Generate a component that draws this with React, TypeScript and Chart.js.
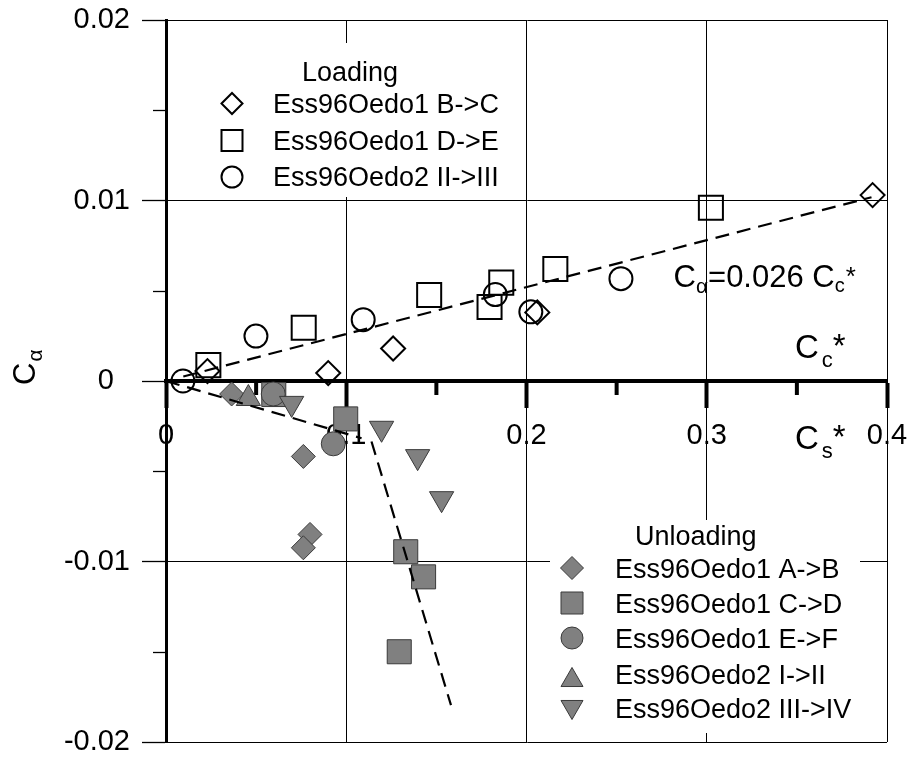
import React, { useEffect, useRef } from 'react';
import { Chart, registerables } from 'chart.js';

Chart.register(...registerables);

const FONT = '"Liberation Sans", Arial, Helvetica, sans-serif';

// ---- axis ticks ----
const xTickValues = [0, 0.1, 0.2, 0.3, 0.4];
const xTickLabels = ['0', '0.1', '0.2', '0.3', '0.4'];
const xMinorValues = [0.05, 0.15, 0.25, 0.35];
const yTickValues = [-0.02, -0.01, 0, 0.01, 0.02];
const yTickLabels = ['-0.02', '-0.01', '0  ', '0.01', '0.02'];
const yMinorValues = [-0.015, -0.005, 0.005, 0.015];

// ---- loading series ----
const loadBCx = [0.023, 0.09, 0.126, 0.206, 0.392];
const loadBCy = [0.00055, 0.00044, 0.0018, 0.0038, 0.0103];
const loadDEx = [0.0235, 0.0764, 0.146, 0.1795, 0.186, 0.216, 0.3023];
const loadDEy = [0.00088, 0.00295, 0.00477, 0.0041, 0.00545, 0.0062, 0.0096];
const loadIIx = [0.0094, 0.0499, 0.1094, 0.1827, 0.2024, 0.2524];
const loadIIy = [0.0, 0.00249, 0.0034, 0.00479, 0.00383, 0.00567];

// ---- unloading series ----
const unABx = [0.0364, 0.0762, 0.0799, 0.0762];
const unABy = [-0.00072, -0.00418, -0.0085, -0.00924];
const unCDx = [0.0598, 0.0997, 0.133, 0.1429, 0.1294];
const unCDy = [-0.00075, -0.0021, -0.00946, -0.01085, -0.015];
const unEFx = [0.0595, 0.0928];
const unEFy = [-0.00072, -0.00348];
const unI_IIx = [0.0457];
const unI_IIy = [-0.00097];
const unIII_IVx = [0.0697, 0.1196, 0.1396, 0.1529];
const unIII_IVy = [-0.00124, -0.00262, -0.00419, -0.00652];

// ---- fitted dashed lines ----
const fitLoadX = [0.0096, 0.3914];
const fitLoadY = [0.00025, 0.01018];
const fitUn1X = [0.0, 0.1085];
const fitUn1Y = [0.0, -0.00317];
const fitUn2X = [0.114, 0.1581];
const fitUn2Y = [-0.00335, -0.01796];

// ---- texts ----
const loadingTitle = 'Loading';
const unloadingTitle = 'Unloading';
const loadingNames = ['Ess96Oedo1 B->C', 'Ess96Oedo1 D->E', 'Ess96Oedo2 II->III'];
const unloadingNames = [
  'Ess96Oedo1 A->B',
  'Ess96Oedo1 C->D',
  'Ess96Oedo1 E->F',
  'Ess96Oedo2 I->II',
  'Ess96Oedo2 III->IV',
];

const pts = (xs: number[], ys: number[]) => xs.map((x, i) => ({ x, y: ys[i] }));

const OPEN_BG = 'rgba(0,0,0,0)';
const GRAY = '#808080';
const GRAY_EDGE = '#3a3a3a';

type Shape = 'diamond' | 'square' | 'circle' | 'tri' | 'triDown';

function drawShape(
  ctx: CanvasRenderingContext2D,
  shape: Shape,
  cx: number,
  cy: number,
  s: number,
  fill: string | null,
  stroke: string,
  lw: number
) {
  ctx.beginPath();
  if (shape === 'diamond') {
    ctx.moveTo(cx - s, cy);
    ctx.lineTo(cx, cy - s);
    ctx.lineTo(cx + s, cy);
    ctx.lineTo(cx, cy + s);
    ctx.closePath();
  } else if (shape === 'square') {
    ctx.rect(cx - s, cy - s, 2 * s, 2 * s);
  } else if (shape === 'circle') {
    ctx.arc(cx, cy, s, 0, Math.PI * 2);
  } else if (shape === 'tri') {
    const h = s * Math.sqrt(3);
    ctx.moveTo(cx, cy - h / 2);
    ctx.lineTo(cx + s, cy + h / 2);
    ctx.lineTo(cx - s, cy + h / 2);
    ctx.closePath();
  } else {
    const h = s * Math.sqrt(3);
    ctx.moveTo(cx, cy + h / 2);
    ctx.lineTo(cx + s, cy - h / 2);
    ctx.lineTo(cx - s, cy - h / 2);
    ctx.closePath();
  }
  if (fill) {
    ctx.fillStyle = fill;
    ctx.fill();
  }
  ctx.strokeStyle = stroke;
  ctx.lineWidth = lw;
  ctx.stroke();
}

function text(ctx: CanvasRenderingContext2D, s: string, x: number, y: number, size: number) {
  ctx.font = `${size}px ${FONT}`;
  ctx.fillText(s, x, y);
  return ctx.measureText(s).width;
}

const decorPlugin = {
  id: 'decor',
  beforeDatasetsDraw(chart: any) {
    const { ctx, scales } = chart;
    const xs = scales.x;
    const ys = scales.y;
    ctx.save();

    // white legend boxes covering grid lines
    ctx.fillStyle = '#fff';
    ctx.fillRect(195, 43, 320, 154);
    ctx.fillRect(550, 520, 310, 213);

    // minor ticks on x axis (at y = 0)
    const y0 = ys.getPixelForValue(0);
    ctx.strokeStyle = '#000';
    ctx.lineWidth = 4;
    xMinorValues.forEach((v) => {
      const px = xs.getPixelForValue(v);
      ctx.beginPath();
      ctx.moveTo(px, y0);
      ctx.lineTo(px, y0 + 14);
      ctx.stroke();
    });
    // minor ticks on y axis
    ctx.lineWidth = 1.3;
    yMinorValues.forEach((v) => {
      const py = Math.round(ys.getPixelForValue(v)) + 0.5;
      ctx.beginPath();
      ctx.moveTo(xs.left - 13, py);
      ctx.lineTo(xs.left, py);
      ctx.stroke();
    });

    ctx.fillStyle = '#000';
    ctx.textAlign = 'left';
    ctx.textBaseline = 'alphabetic';

    // Loading legend
    text(ctx, loadingTitle, 302, 81, 27);
    const upShapes: Shape[] = ['diamond', 'square', 'circle'];
    const upY = [103.5, 140.5, 177];
    const upBase = [113, 150, 186];
    loadingNames.forEach((n, i) => {
      drawShape(ctx, upShapes[i], 232, upY[i], 10.5, null, '#000', 2);
      ctx.fillStyle = '#000';
      text(ctx, n, 273, upBase[i], 27);
    });

    // Unloading legend
    ctx.fillStyle = '#000';
    text(ctx, unloadingTitle, 635, 545, 27);
    const loShapes: Shape[] = ['diamond', 'square', 'circle', 'tri', 'triDown'];
    const loY = [568, 603, 638, 677, 710];
    const loBase = [578, 613, 648, 684, 718];
    const loSize = [11.5, 11, 11, 11, 11];
    unloadingNames.forEach((n, i) => {
      drawShape(ctx, loShapes[i], 572, loY[i], loSize[i], GRAY, GRAY_EDGE, 1);
      ctx.fillStyle = '#000';
      text(ctx, n, 615, loBase[i], 27);
    });

    // equation
    ctx.fillStyle = '#000';
    let ex = 673.5;
    ex += text(ctx, 'C', ex, 287, 31);
    ex += text(ctx, '\u03b1', ex, 293, 21);
    ex += text(ctx, '=0.026 C', ex, 287, 31);
    ex += text(ctx, 'c', ex, 292, 20);
    text(ctx, '*', ex + 1, 285, 26);

    // axis labels near the x axis
    let cx = 795;
    cx += text(ctx, 'C', cx, 358, 33);
    cx += 3;
    cx += text(ctx, 'c', cx, 367, 22);
    text(ctx, '*', cx, 357, 33);

    cx = 795;
    cx += text(ctx, 'C', cx, 449, 33);
    cx += 3;
    cx += text(ctx, 's', cx, 458, 22);
    text(ctx, '*', cx, 448, 33);

    // y axis title (rotated)
    ctx.translate(35, 385);
    ctx.rotate(-Math.PI / 2);
    const w = text(ctx, 'C', 0, 0, 31);
    text(ctx, '\u03b1', w + 1, 7, 21);

    ctx.restore();
  },
};

export default function App() {
  const ref = useRef<HTMLCanvasElement | null>(null);

  useEffect(() => {
    if (!ref.current) return;
    const tickFont = { family: FONT, size: 29 };
    const chart = new Chart(ref.current, {
      type: 'scatter',
      data: {
        datasets: [
          {
            label: 'fit loading',
            data: pts(fitLoadX, fitLoadY),
            showLine: true,
            borderColor: '#000',
            borderWidth: 2.2,
            borderDash: [14, 8],
            pointRadius: 0,
            fill: false,
            order: 0,
          },
          {
            label: 'fit unloading 1',
            data: pts(fitUn1X, fitUn1Y),
            showLine: true,
            borderColor: '#000',
            borderWidth: 2.2,
            borderDash: [14, 8],
            pointRadius: 0,
            fill: false,
            order: 0,
          },
          {
            label: 'fit unloading 2',
            data: pts(fitUn2X, fitUn2Y),
            showLine: true,
            borderColor: '#000',
            borderWidth: 2.2,
            borderDash: [14, 8],
            pointRadius: 0,
            fill: false,
            order: 0,
          },
          {
            label: unloadingNames[4],
            data: pts(unIII_IVx, unIII_IVy),
            pointStyle: 'triangle',
            pointRotation: 180,
            pointRadius: 14,
            backgroundColor: GRAY,
            borderColor: GRAY_EDGE,
            borderWidth: 1,
            order: 1,
          },
          {
            label: unloadingNames[3],
            data: pts(unI_IIx, unI_IIy),
            pointStyle: 'triangle',
            pointRadius: 14,
            backgroundColor: GRAY,
            borderColor: GRAY_EDGE,
            borderWidth: 1,
            order: 2,
          },
          {
            label: unloadingNames[2],
            data: pts(unEFx, unEFy),
            pointStyle: 'circle',
            pointRadius: 12,
            backgroundColor: GRAY,
            borderColor: GRAY_EDGE,
            borderWidth: 1,
            order: 3,
          },
          {
            label: unloadingNames[1],
            data: pts(unCDx, unCDy),
            pointStyle: 'rect',
            pointRadius: 17,
            backgroundColor: GRAY,
            borderColor: GRAY_EDGE,
            borderWidth: 1,
            order: 4,
          },
          {
            label: unloadingNames[0],
            data: pts(unABx, unABy),
            pointStyle: 'rectRot',
            pointRadius: 12,
            backgroundColor: GRAY,
            borderColor: GRAY_EDGE,
            borderWidth: 1,
            order: 5,
          },
          {
            label: loadingNames[0],
            data: pts(loadBCx, loadBCy),
            pointStyle: 'rectRot',
            pointRadius: 12,
            backgroundColor: OPEN_BG,
            borderColor: '#000',
            borderWidth: 2,
            order: 6,
          },
          {
            label: loadingNames[1],
            data: pts(loadDEx, loadDEy),
            pointStyle: 'rect',
            pointRadius: 17,
            backgroundColor: OPEN_BG,
            borderColor: '#000',
            borderWidth: 2,
            order: 7,
          },
          {
            label: loadingNames[2],
            data: pts(loadIIx, loadIIy),
            pointStyle: 'circle',
            pointRadius: 11.5,
            backgroundColor: OPEN_BG,
            borderColor: '#000',
            borderWidth: 2,
            order: 8,
          },
        ],
      },
      options: {
        responsive: false,
        animation: false,
        events: [],
        layout: { autoPadding: false, padding: { top: 20, right: 25, bottom: 19, left: 0 } },
        plugins: {
          legend: { display: false },
          tooltip: { enabled: false },
          title: { display: false },
        },
        scales: {
          x: {
            type: 'linear',
            min: 0,
            max: 0.4,
            position: { y: 0 } as any,
            afterBuildTicks: (s: any) => {
              s.ticks = xTickValues.map((value) => ({ value }));
            },
            afterFit: (s: any) => {
              s.paddingLeft = 0;
              s.paddingRight = 0;
            },
            ticks: {
              callback: (_v: any, i: number) => xTickLabels[i],
              font: tickFont,
              color: '#000',
              padding: 13,
              maxRotation: 0,
              autoSkip: false,
            },
            grid: {
              color: '#000',
              lineWidth: 1,
              tickLength: 25,
              tickWidth: 4,
              tickColor: '#000',
            },
            border: { display: true, color: '#000', width: 4 },
          },
          y: {
            type: 'linear',
            min: -0.02,
            max: 0.02,
            position: 'left',
            afterBuildTicks: (s: any) => {
              s.ticks = yTickValues.map((value) => ({ value }));
            },
            afterFit: (s: any) => {
              s.width = 166;
              s.paddingTop = 0;
              s.paddingBottom = 0;
            },
            ticks: {
              callback: (_v: any, i: number) => yTickLabels[i],
              font: tickFont,
              color: '#000',
              padding: 12,
              autoSkip: false,
            },
            grid: {
              color: '#000',
              lineWidth: 1,
              tickLength: 24,
              tickWidth: 1.3,
              tickColor: '#000',
            },
            border: { display: true, color: '#000', width: 3 },
          },
        },
      },
      plugins: [decorPlugin],
    } as any);
    return () => chart.destroy();
  }, []);

  return (
    <div style={{ position: 'absolute', left: 0, top: 0, width: 912, height: 761, background: '#fff' }}>
      <canvas ref={ref} width={912} height={761} style={{ display: 'block' }} />
    </div>
  );
}
